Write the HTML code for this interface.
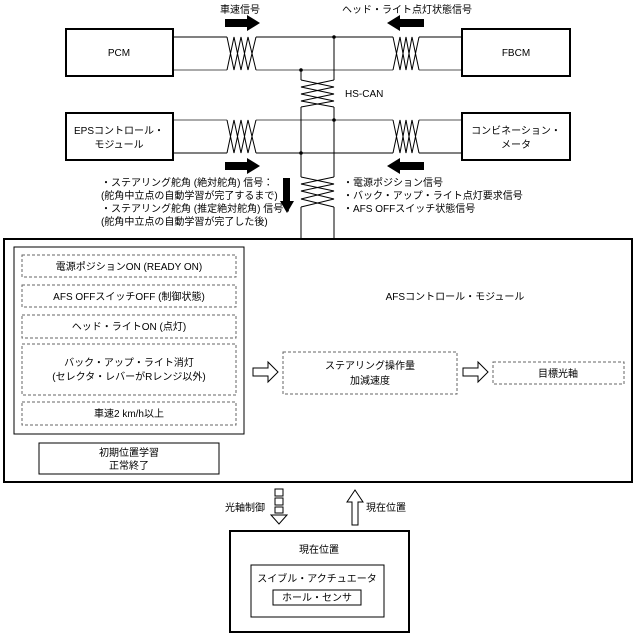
<!DOCTYPE html>
<html><head><meta charset="utf-8"><style>
html,body{margin:0;padding:0;background:#fff}
svg{display:block}
text{font-family:"Liberation Sans","Noto Sans CJK JP",sans-serif;font-size:10px;fill:#000}
</style></head><body>
<svg width="635" height="635" viewBox="0 0 635 635" xmlns="http://www.w3.org/2000/svg">
<g fill="none" stroke="#000" stroke-width="1">
<!-- top lines -->
<path d="M173 37H227M256 37H393M419 37H462"/>
<path d="M173 70H227M256 70H393M419 70H462" stroke="#555"/>
<path d="M173 120H227M256 120H393M419 120H462" stroke="#555"/>
<path d="M173 153H227M256 153H393M419 153H462"/>
<!-- twisted horizontal -->
<path d="M227 37L234 70L241 37L248 70L256 37M227 70L234 37L241 70L248 37L256 70"/>
<path d="M393 37L400 70L406 37L412 70L419 37M393 70L400 37L406 70L412 37L419 70"/>
<path d="M227 120L234 153L241 120L248 153L256 120M227 153L234 120L241 153L248 120L256 153"/>
<path d="M393 120L400 153L406 120L412 153L419 120M393 153L400 120L406 153L412 120L419 153"/>
<!-- vertical bus -->
<path d="M301 70V80M334 37V80M301 107V177M334 107V177M301 207V238M334 207V238"/>
<path d="M301 80L334 87L301 94L334 101L301 107M334 80L301 87L334 94L301 101L334 107"/>
<path d="M301 177L334 184L301 191L334 199L301 207M334 177L301 184L334 191L301 199L334 207"/>
<!-- boxes -->
<rect x="66" y="29" width="107" height="47" stroke-width="2"/>
<rect x="462" y="29" width="108" height="47" stroke-width="2"/>
<rect x="66" y="113" width="107" height="47" stroke-width="2"/>
<rect x="462" y="113" width="108" height="47" stroke-width="2"/>
<rect x="4" y="239" width="628" height="243" stroke-width="2"/>
<rect x="14" y="247" width="230" height="187"/>
<g stroke="#666" stroke-dasharray="3,2">
<rect x="22" y="255" width="214" height="22"/>
<rect x="22" y="285" width="214" height="22"/>
<rect x="22" y="315" width="214" height="23"/>
<rect x="22" y="344" width="214" height="51"/>
<rect x="22" y="402" width="214" height="23"/>
<rect x="283" y="352" width="174" height="42"/>
<rect x="493" y="362" width="131" height="22"/>
</g>
<rect x="39" y="443" width="180" height="31"/>
<!-- hollow arrows -->
<path d="M253 368H268V362L278 372L268 382V376H253Z"/>
<path d="M463 368H478V362L488 372L478 382V376H463Z"/>
<rect x="230" y="531" width="179" height="101" stroke-width="2"/>
<rect x="251" y="565" width="133" height="52"/>
<rect x="273" y="590" width="88" height="15"/>
<rect x="275" y="489" width="8" height="7"/>
<rect x="275" y="498" width="8" height="7"/>
<rect x="275" y="507" width="8" height="6"/>
<path d="M275 515H283V515L287 515L279 524L271 515Z"/>
<path d="M352 525V502H347L355 490L363 502H358V525Z"/>
</g>
<g fill="#000">
<circle cx="334" cy="37" r="1.8"/><circle cx="301" cy="70" r="1.8"/>
<circle cx="334" cy="120" r="1.8"/><circle cx="301" cy="153" r="1.8"/>
<path d="M225 19H247V15L260 23L247 31V27H225Z"/>
<path d="M424 19H400V15L387 23L400 31V27H424Z"/>
<path d="M225 162H247V158L260 166L247 174V170H225Z"/>
<path d="M424 162H400V158L387 166L400 174V170H424Z"/>
<path d="M283 178H290V201H294L287 213L280 201H283Z"/>
</g>
<text x="240" y="13" text-anchor="middle">車速信号</text>
<text x="407" y="13" text-anchor="middle">ヘッド・ライト点灯状態信号</text>
<text x="119" y="56" text-anchor="middle">PCM</text>
<text x="516" y="56" text-anchor="middle">FBCM</text>
<text x="345" y="97">HS-CAN</text>
<text x="119" y="134" text-anchor="middle">EPSコントロール・</text>
<text x="119" y="148" text-anchor="middle">モジュール</text>
<text x="516" y="134" text-anchor="middle">コンビネーション・</text>
<text x="516" y="148" text-anchor="middle">メータ</text>
<g style="font-size:9px">
<text x="101" y="186">・ステアリング舵角 (絶対舵角) 信号：</text>
<text x="101" y="199">(舵角中立点の自動学習が完了するまで)</text>
<text x="101" y="212">・ステアリング舵角 (推定絶対舵角) 信号：</text>
<text x="101" y="225">(舵角中立点の自動学習が完了した後)</text>
<text x="343" y="186">・電源ポジション信号</text>
<text x="343" y="199">・バック・アップ・ライト点灯要求信号</text>
<text x="343" y="212">・AFS OFFスイッチ状態信号</text>
</g>
<text x="129" y="270" text-anchor="middle">電源ポジションON (READY ON)</text>
<text x="129" y="300" text-anchor="middle">AFS OFFスイッチOFF (制御状態)</text>
<text x="129" y="330" text-anchor="middle">ヘッド・ライトON (点灯)</text>
<text x="129" y="366" text-anchor="middle">バック・アップ・ライト消灯</text>
<text x="129" y="380" text-anchor="middle">(セレクタ・レバーがRレンジ以外)</text>
<text x="129" y="417" text-anchor="middle">車速2 km/h以上</text>
<text x="129" y="456" text-anchor="middle">初期位置学習</text>
<text x="129" y="469" text-anchor="middle">正常終了</text>
<text x="455" y="300" text-anchor="middle">AFSコントロール・モジュール</text>
<text x="370" y="369" text-anchor="middle">ステアリング操作量</text>
<text x="370" y="384" text-anchor="middle">加減速度</text>
<text x="558" y="377" text-anchor="middle">目標光軸</text>
<text x="265" y="511" text-anchor="end">光軸制御</text>
<text x="366" y="511">現在位置</text>
<text x="319" y="553" text-anchor="middle">現在位置</text>
<text x="317" y="582" text-anchor="middle">スイブル・アクチュエータ</text>
<text x="317" y="601" text-anchor="middle">ホール・センサ</text>
</svg>
</body></html>
